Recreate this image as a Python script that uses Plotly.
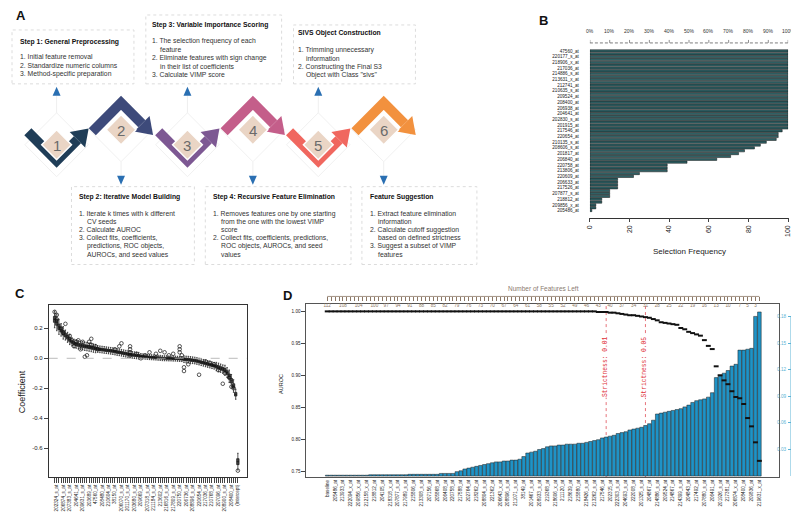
import plotly.graph_objects as go

W, H = 799, 512
def X(px): return px / W
def Y(py): return 1 - py / H

SANS = "Liberation Sans, Arial, sans-serif"
MONO = "Liberation Mono, DejaVu Sans Mono, monospace"

# ---------------- Panel B data ----------------
b_labels_top_down = ["47560_at", "220177_s_at", "218906_x_at", "217036_at", "214886_s_at", "213631_x_at",
                     "212741_at", "210635_s_at", "209524_at", "208400_at", "206938_at", "204641_at",
                     "202830_s_at", "201915_at", "217546_at", "220654_at", "210135_s_at", "208606_s_at",
                     "201817_at", "206840_at", "220758_at", "213806_at", "220609_at", "206633_at",
                     "217526_at", "207877_s_at", "218812_at", "209856_x_at", "205486_at"]
# selection frequency, bottom bar first
b_freq = [1, 3, 3, 6, 6, 10, 10, 10, 14, 14,
          14, 14, 22, 25, 39, 39, 39, 49, 64, 71,
          75, 78, 83, 86, 89, 94, 95, 95, 97, 100,
          100, 100, 100, 100, 100, 100, 100, 100, 100, 100,
          100, 100, 100, 100, 100, 100, 100, 100, 100, 100,
          100, 100, 100, 100, 100, 100, 100]
b_pct_vals = [0, 10, 20, 30, 40, 50, 60, 70, 80, 90, 100]
b_pct_ticks = ["0%", "10%", "20%", "30%", "40%", "50%", "60%", "70%", "80%", "90%", "100%"]

# ---------------- Panel C data ----------------
c_labels = ["202324_s_at", "206874_s_at", "207383_s_at", "204641_at", "209631_s_at", "203689_at", "47560_at",
            "208480_at", "210604_at", "38150_at", "206070_s_at", "201170_s_at", "203680_s_at", "209669_at",
            "207318_s_at", "211184_s_at", "213602_at", "216816_s_at", "217809_s_at", "220750_at", "206736_at",
            "208896_s_at", "220654_at", "217036_at", "210768_at", "207096_at", "208900_s_at", "208400_at",
            "(Intercept)"]
c_median = [0.26, 0.24, 0.21, 0.19, 0.17, 0.155, 0.14, 0.125, 0.11, 0.10,
            0.095, 0.09, 0.087, 0.084, 0.08, 0.078, 0.075, 0.072, 0.068, 0.065,
            0.062, 0.06, 0.058, 0.056, 0.054, 0.052, 0.05, 0.048, 0.045, 0.042,
            0.04, 0.037, 0.034, 0.031, 0.028, 0.025, 0.023, 0.021, 0.019, 0.017,
            0.015, 0.013, 0.011, 0.01, 0.008, 0.007, 0.006, 0.005, 0.004, 0.003,
            0.001, 0.0, 0.0, -0.001, -0.001, -0.002, -0.002, -0.003, -0.004, -0.005,
            -0.006, -0.008, -0.009, -0.011, -0.013, -0.015, -0.018, -0.022, -0.026, -0.03,
            -0.034, -0.038, -0.042, -0.046, -0.05, -0.055, -0.06, -0.066, -0.072, -0.08,
            -0.095, -0.12, -0.15, -0.185, -0.24, -0.69]
c_spread = [0.02, 0.02, 0.018, 0.015, 0.015, 0.012, 0.012, 0.012, 0.01, 0.01,
            0.01, 0.01, 0.01, 0.01, 0.01, 0.01, 0.01, 0.01, 0.01, 0.01,
            0.008, 0.008, 0.008, 0.008, 0.008, 0.008, 0.008, 0.008, 0.008, 0.008,
            0.008, 0.008, 0.008, 0.008, 0.008, 0.008, 0.008, 0.008, 0.008, 0.008,
            0.006, 0.006, 0.006, 0.006, 0.006, 0.006, 0.006, 0.006, 0.006, 0.006,
            0.006, 0.006, 0.006, 0.006, 0.006, 0.006, 0.006, 0.006, 0.006, 0.006,
            0.008, 0.008, 0.008, 0.008, 0.008, 0.008, 0.008, 0.008, 0.008, 0.008,
            0.008, 0.008, 0.008, 0.008, 0.008, 0.01, 0.01, 0.01, 0.01, 0.012,
            0.012, 0.015, 0.015, 0.015, 0.012, 0.02]
c_out_idx = [0, 1, 1, 3, 4, 5, 7, 8, 9, 10, 11, 12, 13, 14, 15, 16, 17, 17, 19, 20,
             28, 30, 31, 35, 35, 35, 35, 38, 40, 42, 44, 47, 49, 51, 53, 55, 58, 58, 58, 59,
             60, 60, 62, 67, 70, 72, 74, 76, 78, 79, 81, 82, 83, 85]
c_out_val = [0.31, 0.29, 0.26, 0.20, 0.17, 0.23, 0.15, 0.12, 0.08, 0.11, 0.12, 0.06, 0.11, 0.01, 0.02, 0.11,
             0.09, 0.13, 0.08, 0.06, 0.06, 0.08, 0.10, 0.08, 0.06, 0.04, 0.02, 0.03, 0.0, 0.02, 0.04, 0.03,
             0.05, 0.04, 0.02, 0.03, 0.08, 0.06, 0.04, 0.02, -0.06, -0.085, -0.04, -0.11, -0.02, -0.03,
             -0.04, -0.08, -0.17, -0.1, -0.13, -0.19, -0.2, -0.75]

# ---------------- Panel D data ----------------
d_labels = ["baseline", "205486_at", "213933_at", "222094_x_at", "209856_x_at", "212158_x_at", "218812_at",
            "204105_at", "218318_x_at", "207877_s_at", "217989_s_at", "215806_at", "213308_s_at", "207156_at",
            "205868_at", "206408_at", "220758_at", "217588_at", "202764_at", "218262_at", "208804_s_at",
            "221362_at", "206643_x_at", "208896_s_at", "211071_s_at", "38149_at", "201467_s_at", "208933_s_at",
            "219368_at", "218606_x_at", "211120_at", "218639_at", "215880_at", "218426_s_at", "213262_s_at",
            "217546_at", "202315_at", "222303_s_at", "204693_s_at", "222008_at", "201325_s_at", "204867_at",
            "214886_s_at", "209524_at", "214867_at", "214399_s_at", "204843_at", "217492_at", "207880_s_at",
            "206491_at", "201926_s_at", "217381_at", "206874_x_at", "208400_at", "209836_at", "219631_x_at"]
d_vimp = [0.001, 0.001, 0.001, 0.001, 0.001, 0.001, 0.001, 0.001, 0.001, 0.001,
          0.001, 0.0015, 0.0015, 0.0015, 0.0015, 0.0015, 0.0015, 0.0015, 0.0015, 0.0015,
          0.0015, 0.002, 0.002, 0.002, 0.002, 0.002, 0.002, 0.002, 0.002, 0.003,
          0.003, 0.003, 0.003, 0.005, 0.006, 0.008, 0.009, 0.010, 0.011, 0.012,
          0.013, 0.014, 0.015, 0.016, 0.016, 0.017, 0.017, 0.018, 0.018, 0.019,
          0.022, 0.026, 0.027, 0.028, 0.030, 0.031, 0.033, 0.034, 0.034, 0.035,
          0.035, 0.036, 0.036, 0.036, 0.037, 0.037, 0.038, 0.039, 0.040, 0.041,
          0.043, 0.044, 0.045, 0.046, 0.048, 0.049, 0.050, 0.052, 0.053, 0.054,
          0.055, 0.057, 0.059, 0.063, 0.070, 0.071, 0.072, 0.073, 0.074, 0.075,
          0.076, 0.078, 0.080, 0.083, 0.085, 0.086, 0.087, 0.089, 0.094, 0.111,
          0.113, 0.116, 0.119, 0.124, 0.126, 0.142, 0.142, 0.143, 0.144, 0.180,
          0.185]
d_auroc = [1.0, 1.0, 1.0, 1.0, 1.0, 1.0, 1.0, 1.0, 1.0, 1.0,
           1.0, 1.0, 1.0, 1.0, 1.0, 1.0, 1.0, 1.0, 1.0, 1.0,
           1.0, 1.0, 1.0, 1.0, 1.0, 1.0, 1.0, 1.0, 1.0, 1.0,
           1.0, 1.0, 1.0, 1.0, 1.0, 1.0, 1.0, 1.0, 1.0, 1.0,
           1.0, 1.0, 1.0, 1.0, 1.0, 1.0, 1.0, 1.0, 1.0, 1.0,
           1.0, 1.0, 1.0, 1.0, 1.0, 1.0, 1.0, 1.0, 1.0, 1.0,
           1.0, 1.0, 1.0, 1.0, 1.0, 1.0, 1.0, 1.0, 1.0, 0.999,
           0.999, 0.999, 0.998, 0.998, 0.997, 0.996, 0.995, 0.994, 0.994, 0.993,
           0.992, 0.991, 0.99, 0.988, 0.986, 0.983, 0.982, 0.981, 0.98, 0.979,
           0.974, 0.972, 0.968, 0.966, 0.964, 0.962, 0.955, 0.946, 0.941, 0.914,
           0.9, 0.892, 0.886, 0.875, 0.866, 0.864, 0.855, 0.833, 0.82, 0.795,
           0.766]
d_features_start = 112
d_top_labels = [112, 108, 104, 100, 97, 94, 91, 88, 85, 82, 79, 76, 73, 70, 67, 64, 61, 58, 55,
                52, 49, 46, 43, 40, 37, 34, 31, 28, 25, 22, 19, 16, 13, 10, 7, 5, 3]
strictness = [("Strictness: 0.01", 41), ("Strictness: 0.05", 31)]
d_auroc_ticks = [0.75, 0.80, 0.85, 0.90, 0.95, 1.00]
d_vimp_ticks = [0, 0.03, 0.06, 0.09, 0.12, 0.15, 0.18]

# ---------------- Panel A text ----------------
boxes = [
    dict(rect=(0, 22, 123, 76), title="Step 1: General Preprocessing", tpos=(7, 34),
         lines=[(7, 49, "1. Initial feature removal"), (7, 57.5, "2. Standardize numeric columns"),
                (7, 66, "3. Method-specific preparation")]),
    dict(rect=(135, 7, 272, 76), title="Step 3: Variable Importance Scoring", tpos=(140, 17),
         lines=[(140, 33, "1. The selection frequency of each"), (148, 41.5, "feature"),
                (140, 50, "2. Eliminate features with sign change"), (148, 58.5, "in their list of coefficients"),
                (140, 67, "3. Calculate VIMP score")]),
    dict(rect=(284, 17, 407, 76), title="SIVS Object Construction", tpos=(288, 25),
         lines=[(288, 42, "1. Trimming unnecessary"), (296, 50.5, "information"),
                (288, 59, "2. Constructing the Final S3"), (296, 67.5, "Object with Class \"sivs\"")]),
    dict(rect=(60, 179, 184, 257), title="Step 2: Iterative Model Building", tpos=(67, 189),
         lines=[(67, 206, "1. Iterate k times with k different"), (75, 214, "CV seeds"),
                (67, 222, "2. Calculate AUROC"), (67, 230, "3. Collect fits, coefficients,"),
                (75, 238, "predictions, ROC objects,"), (75, 246.5, "AUROCs, and seed values")]),
    dict(rect=(195, 179, 342, 257), title="Step 4: Recursive Feature Elimination", tpos=(202, 189),
         lines=[(202, 206, "1. Removes features one by one starting"), (210, 214, "from the one with the lowest VIMP"),
                (210, 222, "score"), (202, 230, "2. Collect fits, coefficients, predictions,"),
                (210, 238, "ROC objects, AUROCs, and seed"), (210, 246.5, "values")]),
    dict(rect=(353, 179, 469, 257), title="Feature Suggestion", tpos=(360, 189),
         lines=[(360, 206, "1. Extract feature elimination"), (368, 214, "information"),
                (360, 222, "2. Calculate cutoff suggestion"), (368, 230, "based on defined strictness"),
                (360, 238, "3. Suggest a subset of VIMP"), (368, 246.5, "features")]),
]
steps = [("1", 45, "v", "#1f3d57"), ("2", 110, "^", "#3d4a7a"), ("3", 177, "v", "#7d5893"),
         ("4", 243, "^", "#c45e8a"), ("5", 309, "v", "#f0675f"), ("6", 375, "^", "#f2913e")]

fig = go.Figure()

# ---- B bars
b_pos = list(range(len(b_freq)))
fig.add_trace(go.Bar(x=b_freq, y=b_pos, orientation="h", width=0.8,
                     marker=dict(color="#2f6064", line=dict(color="#111", width=0.5)),
                     xaxis="x", yaxis="y", hoverinfo="skip"))

# ---- C boxes
c_pos = list(range(len(c_median)))
c_q1 = [m - s for m, s in zip(c_median, c_spread)]
c_q3 = [m + s for m, s in zip(c_median, c_spread)]
c_lo = [m - 2.8 * s for m, s in zip(c_median, c_spread)]
c_hi = [m + 2.8 * s for m, s in zip(c_median, c_spread)]
fig.add_trace(go.Box(x=c_pos, q1=c_q1, median=c_median, q3=c_q3, lowerfence=c_lo, upperfence=c_hi,
                     width=1.1, boxpoints=False, fillcolor="#444", line=dict(color="#111", width=0.7),
                     whiskerwidth=0.6, xaxis="x3", yaxis="y3", hoverinfo="skip"))
fig.add_trace(go.Scatter(x=c_out_idx, y=c_out_val, mode="markers",
                         marker=dict(symbol="circle-open", size=3.6, color="#111", line=dict(width=0.7)),
                         xaxis="x3", yaxis="y3", hoverinfo="skip"))

# ---- D bars (VIMP, base axis y4) and AUROC (overlay y5)
d_pos = list(range(len(d_vimp)))
fig.add_trace(go.Bar(x=d_pos, y=d_vimp, width=0.92,
                     marker=dict(color="#1f93c6", line=dict(color="#1a1a1a", width=0.5)),
                     xaxis="x4", yaxis="y4", hoverinfo="skip"))
fig.add_trace(go.Scatter(x=d_pos, y=d_auroc, mode="markers",
                         marker=dict(symbol="line-ew", size=3.5, color="#111", line=dict(color="#111", width=2)),
                         xaxis="x4", yaxis="y5", cliponaxis=False, hoverinfo="skip"))

shapes = []
ann = []

def txt(x, y, s, size, color="#222", bold=False, xanchor="left", angle=0, family=SANS, bg=None):
    d = dict(x=X(x), y=Y(y), xref="paper", yref="paper", text=("<b>%s</b>" % s) if bold else s,
             showarrow=False, xanchor=xanchor, yanchor="middle", textangle=angle,
             font=dict(size=size, color=color, family=family), borderpad=0)
    if bg:
        d["bgcolor"] = bg
    ann.append(d)

def P(pts):
    return "M " + " L ".join("%.5f,%.5f" % (X(a), Y(b)) for a, b in pts)

# ---- Panel A: text boxes
for bx in boxes:
    x0, y0, x1, y1 = bx["rect"]
    shapes.append(dict(type="rect", xref="paper", yref="paper", x0=X(x0), x1=X(x1), y0=Y(y1), y1=Y(y0),
                       line=dict(color="#dcdcdc", width=1, dash="dot")))
    txt(bx["tpos"][0], bx["tpos"][1], bx["title"], 6.8, bold=True, color="#111")
    for (lx, ly, s) in bx["lines"]:
        txt(lx, ly, s, 6.8, color="#333")

# ---- Panel A: chevrons, diamonds, connectors
for num, cx, kind, col in steps:
    if kind == "v":
        cy = 137
        arm = [(cx - 29, 124), (cx, 153), (cx + 21, 132)]
        e = (cx + 21, 132); d = (0.707, -0.707); p = (0.707, 0.707)
        shapes.append(dict(type="line", xref="paper", yref="paper", x0=X(cx), x1=X(cx), y0=Y(88), y1=Y(105),
                           line=dict(color="#efefef", width=1)))
        shapes.append(dict(type="path", xref="paper", yref="paper",
                           path=P([(cx - 4, 88), (cx + 4, 88), (cx, 79)]) + " Z",
                           fillcolor="#2a6fb2", line=dict(width=0)))
    else:
        cy = 122
        arm = [(cx - 29, 124), (cx, 95), (cx + 21, 116)]
        e = (cx + 21, 116); d = (0.707, 0.707); p = (0.707, -0.707)
        shapes.append(dict(type="line", xref="paper", yref="paper", x0=X(cx), x1=X(cx), y0=Y(154), y1=Y(168),
                           line=dict(color="#efefef", width=1)))
        shapes.append(dict(type="path", xref="paper", yref="paper",
                           path=P([(cx - 4, 168), (cx + 4, 168), (cx, 177)]) + " Z",
                           fillcolor="#2a6fb2", line=dict(width=0)))
    r = 32
    shapes.append(dict(type="path", xref="paper", yref="paper",
                       path=P([(cx, cy - r), (cx + r, cy), (cx, cy + r), (cx - r, cy)]) + " Z",
                       line=dict(color="#f1f1f1", width=1)))
    shapes.append(dict(type="path", xref="paper", yref="paper", path=P(arm),
                       line=dict(color=col, width=10)))
    b1 = (e[0] + 11 * p[0], e[1] + 11 * p[1])
    b2 = (e[0] - 11 * p[0], e[1] - 11 * p[1])
    tip = (e[0] + 16 * d[0], e[1] + 16 * d[1])
    shapes.append(dict(type="path", xref="paper", yref="paper", path=P([b1, tip, b2]) + " Z",
                       fillcolor=col, line=dict(width=0)))
    r2 = 15
    shapes.append(dict(type="path", xref="paper", yref="paper",
                       path=P([(cx, cy - r2), (cx + r2, cy), (cx, cy + r2), (cx - r2, cy)]) + " Z",
                       fillcolor="#ead5c5", line=dict(color="white", width=1.5)))
    txt(cx, cy + 1, num, 15, color="#6b6b6b", xanchor="center")

# ---- Panel letters
txt(3, 8, "A", 13, bold=True, color="#111")
txt(531, 13, "B", 13, bold=True, color="#111")
txt(2, 286, "C", 13, bold=True, color="#111")
txt(272, 288, "D", 13, bold=True, color="#111")

# ---- B extras: top percent axis (dashed line, ticks, labels)
shapes.append(dict(type="line", xref="paper", yref="paper", x0=X(583), x1=X(783), y0=Y(35), y1=Y(35),
                   line=dict(color="#444", width=0.7, dash="3px,2px")))
for v, s in zip(b_pct_vals, b_pct_ticks):
    shapes.append(dict(type="line", xref="x", yref="paper", x0=v, x1=v, y0=Y(35), y1=Y(32),
                       line=dict(color="#444", width=0.6)))
    ann.append(dict(x=v, y=Y(23), xref="x", yref="paper", text=s, showarrow=False, xanchor="center",
                    yanchor="middle", font=dict(size=5, color="#333", family=SANS)))
txt(683, 244, "Selection Frequency", 8, color="#222", xanchor="center")

# ---- C extras
shapes.append(dict(type="line", xref="x3", yref="y3", x0=-2.76, x1=89.2, y0=0, y1=0,
                   line=dict(color="#aaaaaa", width=0.8, dash="dash")))
txt(10, 384, "Coefficient", 9, color="#222", xanchor="center", angle=-90)

# ---- D extras
VX = 786
for label, n in strictness:
    shapes.append(dict(type="line", xref="x5", yref="paper", x0=n, x1=n, y0=Y(470), y1=Y(297),
                       line=dict(color="#e0505a", width=0.8, dash="dot"), layer="below"))
    ann.append(dict(x=n, y=0.913, xref="x5", yref="y5", text=label, showarrow=False, textangle=-90,
                    xanchor="center", yanchor="middle", bgcolor="white", borderpad=0,
                    font=dict(size=6.3, color="#e0313a", family=MONO)))
shapes.append(dict(type="line", xref="x5", yref="paper", x0=d_features_start, x1=d_features_start - len(d_vimp) + 1,
                   y0=Y(289), y1=Y(289), line=dict(color="#8b7765", width=0.8)))
shapes.append(dict(type="line", xref="paper", yref="y4", x0=X(VX), x1=X(VX), y0=0, y1=0.18,
                   line=dict(color="#5bb3d6", width=1.2)))
txt(536, 281, "Number of Features Left", 6.5, color="#8b7b70", xanchor="center")
txt(272, 377, "AUROC", 5.5, color="#222", xanchor="center", angle=-90)
txt(791.5, 378, "Variable Importance Score", 6, color="#5bb3d6", xanchor="center", angle=-90)

kmin, kmax = -5.30, 115.05
top_vals = [d_features_start - k for k in d_pos]
top_text = [str(v) if v in d_top_labels else "" for v in top_vals]
c_text = []
ci = 0
for i in c_pos:
    if i % 3 == 1:
        c_text.append(c_labels[ci]); ci += 1
    else:
        c_text.append("")

fig.update_layout(
    width=W, height=H, margin=dict(l=0, r=0, t=0, b=0),
    paper_bgcolor="white", plot_bgcolor="rgba(0,0,0,0)", showlegend=False,
    font=dict(family=SANS, color="#222"),
    # B
    xaxis=dict(domain=[X(583), X(783)], range=[0, 100], anchor="free", position=Y(210),
               tickvals=[0, 20, 40, 60, 80, 100], ticks="outside", ticklen=4, tickangle=-90,
               tickfont=dict(size=7), showline=True, linecolor="#333", linewidth=0.8,
               showgrid=False, zeroline=False),
    yaxis=dict(domain=[Y(205), Y(41)], range=[-0.7, 56.7], anchor="x",
               tickvals=list(range(0, 57, 2)), ticktext=list(reversed(b_labels_top_down)),
               tickfont=dict(size=4.6), ticks="", showline=False, showgrid=False, zeroline=False,
               ticklabelstandoff=10),
    # C
    xaxis3=dict(domain=[X(37), X(237)], anchor="y3", range=[-2.76, 89.2], tickvals=c_pos, ticktext=c_text,
                ticks="outside", ticklen=5, tickwidth=0.6, tickangle=-90, tickfont=dict(size=4.6),
                showline=True, mirror=True, linecolor="#333", linewidth=0.8, showgrid=False, zeroline=False),
    yaxis3=dict(domain=[Y(470), Y(298)], anchor="x3", range=[-0.793, 0.353],
                tickvals=[-0.6, -0.4, -0.2, 0.0, 0.2], ticktext=["-0.6", "-0.4", "-0.2", "0.0", "0.2"],
                ticks="outside", ticklen=4, tickfont=dict(size=6), showline=True, mirror=True,
                linecolor="#333", linewidth=0.8, showgrid=False, zeroline=False),
    # D
    xaxis4=dict(domain=[X(297), X(774)], anchor="y4", range=[kmin, kmax],
                tickvals=list(range(0, len(d_vimp), 2)), ticktext=d_labels, tickangle=-90,
                tickfont=dict(size=4.6), ticks="", showline=True, mirror=True, linecolor="#555",
                linewidth=0.9, showgrid=False, zeroline=False),
    xaxis5=dict(overlaying="x4", side="top", anchor="free", position=Y(289),
                range=[d_features_start - kmin, d_features_start - kmax],
                tickvals=top_vals, ticktext=top_text, ticks="inside", ticklen=4, tickwidth=0.6,
                tickcolor="#8b7765", ticklabelposition="inside", tickfont=dict(size=4.6, color="#8b7765"),
                showline=False, showgrid=False, zeroline=False),
    yaxis4=dict(domain=[Y(470), Y(297)], anchor="free", position=X(VX), side="right",
                range=[-0.00112, 0.1935], tickvals=d_vimp_ticks,
                ticktext=["0", "0.03", "0.06", "0.09", "0.12", "0.15", "0.18"],
                ticks="inside", ticklen=3, tickcolor="#5bb3d6", ticklabelposition="inside",
                tickfont=dict(size=4.6, color="#5bb3d6"), showline=False, showgrid=False, zeroline=False),
    yaxis5=dict(overlaying="y4", side="left", anchor="x4", range=[0.7406, 1.0109],
                tickvals=d_auroc_ticks, ticktext=["0.75", "0.80", "0.85", "0.90", "0.95", "1.00"],
                ticks="outside", ticklen=4, tickfont=dict(size=4.6), showline=True, mirror=True,
                linecolor="#555", linewidth=0.9, showgrid=False, zeroline=False),
    shapes=shapes, annotations=ann,
)

fig.write_html("out.html")
